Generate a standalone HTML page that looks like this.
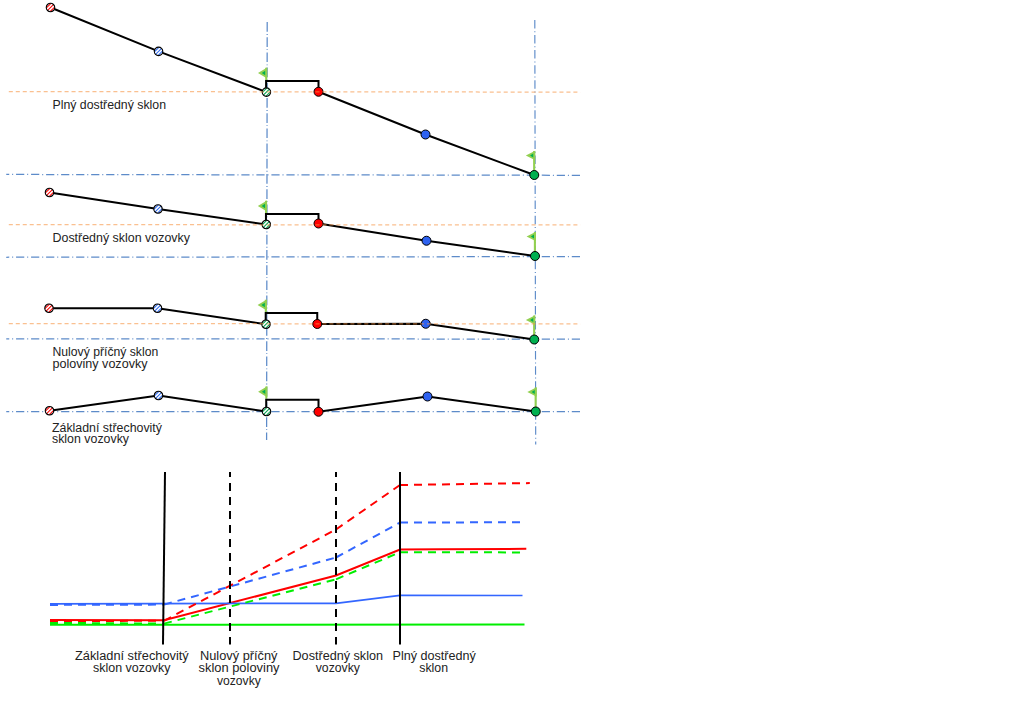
<!DOCTYPE html>
<html lang="cs"><head><meta charset="utf-8"><title>Klopení vozovky</title>
<style>html,body{margin:0;padding:0;background:#fff}body{width:1024px;height:720px;overflow:hidden}svg{display:block}text{font-family:"Liberation Sans", sans-serif;font-size:12.5px;fill:#222}</style></head><body>
<svg width="1024" height="720" viewBox="0 0 1024 720">
<defs>
<clipPath id="cc"><circle r="4.25"/></clipPath>
<g id="hr"><circle r="4.25" fill="#fff"/><g clip-path="url(#cc)" stroke="#ff0000" stroke-width="1.05" fill="none"><path d="M-13.3,6L-1.3,-6"/><path d="M-9.65,6L2.35,-6"/><path d="M-6.0,6L6.0,-6"/><path d="M-2.35,6L9.65,-6"/><path d="M1.3,6L13.3,-6"/></g><circle r="4.25" fill="none" stroke="#000" stroke-width="1.1"/></g>
<g id="hb"><circle r="4.25" fill="#fff"/><g clip-path="url(#cc)" stroke="#2e6bf0" stroke-width="1.05" fill="none"><path d="M-13.3,6L-1.3,-6"/><path d="M-9.65,6L2.35,-6"/><path d="M-6.0,6L6.0,-6"/><path d="M-2.35,6L9.65,-6"/><path d="M1.3,6L13.3,-6"/></g><circle r="4.25" fill="none" stroke="#000" stroke-width="1.1"/></g>
<g id="hg"><circle r="4.25" fill="#fff"/><g clip-path="url(#cc)" stroke="#00a650" stroke-width="1.05" fill="none"><path d="M-13.3,6L-1.3,-6"/><path d="M-9.65,6L2.35,-6"/><path d="M-6.0,6L6.0,-6"/><path d="M-2.35,6L9.65,-6"/><path d="M1.3,6L13.3,-6"/></g><circle r="4.25" fill="none" stroke="#000" stroke-width="1.1"/></g>
<g id="flag"><path d="M0,0V-12.25" stroke="#92d050" stroke-width="2" fill="none"/><path d="M1,-12.4L-8.2,-7L1,-1.6Z" fill="#92d050"/><path d="M-1,-9.3L-4.4,-7L-1,-4.8Z" fill="#00b050"/></g>
<g id="flag2"><path d="M0,0V-24" stroke="#92d050" stroke-width="2.1" fill="none"/><path d="M1.05,-24.2L-8.3,-19.5L1.05,-14.7Z" fill="#92d050"/><path d="M-0.9,-21.4L-4.1,-19.5L-0.9,-17.6Z" fill="#00b050"/></g>
</defs>
<rect width="1024" height="720" fill="#fff"/>
<line x1="580" y1="175.3" x2="6.25" y2="174.45" stroke="#5d8bc9" stroke-width="1.25" stroke-dasharray="8.2 2.9 1 2.92"/>
<line x1="580" y1="256.6" x2="6.25" y2="257.25" stroke="#5d8bc9" stroke-width="1.25" stroke-dasharray="8.2 2.9 1 2.92"/>
<line x1="580" y1="339.1" x2="6.25" y2="338.75" stroke="#5d8bc9" stroke-width="1.25" stroke-dasharray="8.2 2.9 1 2.92"/>
<line x1="580" y1="411.5" x2="6.25" y2="411.5" stroke="#5d8bc9" stroke-width="1.25" stroke-dasharray="8.2 2.9 1 2.92"/>
<line x1="267.2" y1="22" x2="266.6" y2="440" stroke="#5d8bc9" stroke-width="1.25" stroke-dasharray="9.7 2.3 0.9 2.3"/>
<line x1="534.8" y1="20" x2="535.7" y2="444.5" stroke="#5d8bc9" stroke-width="1.15" stroke-dasharray="8.5 2.8 1 2.75"/>
<use href="#flag" x="266.2" y="80"/>
<use href="#flag2" x="534.15" y="175"/>
<polyline points="50.5,7.5 158.55,51.4 266.4,92.1" fill="none" stroke="#000" stroke-width="2" stroke-linejoin="round"/>
<polyline points="266.09999999999997,92.1 266.09999999999997,81 318.5,81 318.5,91.75" fill="none" stroke="#000" stroke-width="2" stroke-linejoin="miter"/>
<polyline points="318.5,91.75 425.5,134.5 534.25,175" fill="none" stroke="#000" stroke-width="2" stroke-linejoin="round"/>
<use href="#hr" x="50.5" y="7.5"/>
<use href="#hb" x="158.55" y="51.4"/>
<use href="#hg" x="266.4" y="92.1"/>
<circle cx="318.5" cy="91.75" r="4.5" fill="#ff0000" stroke="#000" stroke-width="1"/>
<circle cx="425.5" cy="134.5" r="4.5" fill="#2e62f0" stroke="#000" stroke-width="1"/>
<circle cx="534.25" cy="175" r="4.5" fill="#00b050" stroke="#000" stroke-width="1"/>
<use href="#flag" x="266.05" y="213"/>
<use href="#flag2" x="534.9" y="256"/>
<polyline points="49.5,192.5 158,209 266.25,224.5" fill="none" stroke="#000" stroke-width="2" stroke-linejoin="round"/>
<polyline points="265.95,224.5 265.95,214 318.5,214 318.5,223.5" fill="none" stroke="#000" stroke-width="2" stroke-linejoin="miter"/>
<polyline points="318.5,223.5 426.5,240.75 535,256" fill="none" stroke="#000" stroke-width="2" stroke-linejoin="round"/>
<use href="#hr" x="49.5" y="192.5"/>
<use href="#hb" x="158" y="209"/>
<use href="#hg" x="266.25" y="224.5"/>
<circle cx="318.5" cy="223.5" r="4.5" fill="#ff0000" stroke="#000" stroke-width="1"/>
<circle cx="426.5" cy="240.75" r="4.5" fill="#2e62f0" stroke="#000" stroke-width="1"/>
<circle cx="535" cy="256" r="4.5" fill="#00b050" stroke="#000" stroke-width="1"/>
<use href="#flag" x="265.8" y="312"/>
<use href="#flag2" x="534.15" y="339.5"/>
<polyline points="49,308.25 157.5,308.25 266,324.25" fill="none" stroke="#000" stroke-width="2" stroke-linejoin="round"/>
<polyline points="265.7,324.25 265.7,313 317.25,313 317.25,324" fill="none" stroke="#000" stroke-width="2" stroke-linejoin="miter"/>
<polyline points="317.25,324 425.75,323.75 534.25,339.5" fill="none" stroke="#000" stroke-width="2" stroke-linejoin="round"/>
<use href="#hr" x="49" y="308.25"/>
<use href="#hb" x="157.5" y="308.25"/>
<use href="#hg" x="266" y="324.25"/>
<circle cx="317.25" cy="324" r="4.5" fill="#ff0000" stroke="#000" stroke-width="1"/>
<circle cx="425.75" cy="323.75" r="4.5" fill="#2e62f0" stroke="#000" stroke-width="1"/>
<circle cx="534.25" cy="339.5" r="4.5" fill="#00b050" stroke="#000" stroke-width="1"/>
<use href="#flag" x="266.3" y="398.75"/>
<use href="#flag2" x="535.65" y="411.5"/>
<polyline points="49.5,410.75 158.5,395.5 266.5,411.5" fill="none" stroke="#000" stroke-width="2" stroke-linejoin="round"/>
<polyline points="266.2,411.5 266.2,399.75 318.5,399.75 318.5,411.75" fill="none" stroke="#000" stroke-width="2" stroke-linejoin="miter"/>
<polyline points="318.5,411.75 427.5,396.5 535.75,411.5" fill="none" stroke="#000" stroke-width="2" stroke-linejoin="round"/>
<use href="#hr" x="49.5" y="410.75"/>
<use href="#hb" x="158.5" y="395.5"/>
<use href="#hg" x="266.5" y="411.5"/>
<circle cx="318.5" cy="411.75" r="4.5" fill="#ff0000" stroke="#000" stroke-width="1"/>
<circle cx="427.5" cy="396.5" r="4.5" fill="#2e62f0" stroke="#000" stroke-width="1"/>
<circle cx="535.75" cy="411.5" r="4.5" fill="#00b050" stroke="#000" stroke-width="1"/>
<line x1="8.8" y1="91.55" x2="580.4" y2="92.1" stroke="#f79646" stroke-opacity="0.6" stroke-width="1.25" stroke-dasharray="4.05 2.92"/>
<line x1="8.8" y1="224.67" x2="580.4" y2="224.9" stroke="#f79646" stroke-opacity="0.6" stroke-width="1.25" stroke-dasharray="4.05 2.92"/>
<line x1="8.8" y1="323.55" x2="580.4" y2="324.0" stroke="#f79646" stroke-opacity="0.6" stroke-width="1.25" stroke-dasharray="4.05 2.92"/>
<text x="52.5" y="108.75" textLength="113.5" lengthAdjust="spacingAndGlyphs">Plný dostředný sklon</text>
<text x="52.5" y="242" textLength="137.5" lengthAdjust="spacingAndGlyphs">Dostředný sklon vozovky</text>
<text x="52.5" y="355.75" textLength="105.75" lengthAdjust="spacingAndGlyphs">Nulový příčný sklon</text>
<text x="52.5" y="368" textLength="95" lengthAdjust="spacingAndGlyphs">poloviny vozovky</text>
<text x="52" y="431.75" textLength="110" lengthAdjust="spacingAndGlyphs">Základní střechovitý</text>
<text x="52" y="443.25" textLength="77" lengthAdjust="spacingAndGlyphs">sklon vozovky</text>
<g fill="none" stroke-width="2">
<polyline points="50,620 164,620.3 336,575.5 400,549.5 440,549.2 526.3,548.8" stroke="#ff0000"/>
<polyline points="50,624.8 524.5,624.4" stroke="#00ee00"/>
<polyline points="50,603.9 336,603.3 400,595.3 522.5,595.5" stroke="#3366ff" stroke-width="1.7"/>
<line x1="50" y1="604.9" x2="164" y2="604.6" stroke="#3366ff" stroke-dasharray="8 6"/>
<line x1="164" y1="604.6" x2="336" y2="557.5" stroke="#3366ff" stroke-dasharray="8 6"/>
<line x1="336" y1="557.5" x2="400" y2="522.6" stroke="#3366ff" stroke-dasharray="8 6"/>
<line x1="400" y1="522.6" x2="524.3" y2="522.2" stroke="#3366ff" stroke-dasharray="8 6"/>
<line x1="50" y1="621" x2="164" y2="620.8" stroke="#ff0000" stroke-dasharray="8 6"/>
<line x1="164" y1="620.8" x2="336" y2="529.5" stroke="#ff0000" stroke-dasharray="8 6"/>
<line x1="336" y1="529.5" x2="400" y2="485" stroke="#ff0000" stroke-dasharray="8 6"/>
<line x1="400" y1="485" x2="529.8" y2="483.1" stroke="#ff0000" stroke-dasharray="8 6"/>
<line x1="50" y1="622.9" x2="164" y2="623.6" stroke="#00ee00" stroke-dasharray="8 6"/>
<line x1="164" y1="623.6" x2="336" y2="579.3" stroke="#00ee00" stroke-dasharray="8 6"/>
<line x1="336" y1="579.3" x2="400" y2="552.2" stroke="#00ee00" stroke-dasharray="8 6"/>
<line x1="400" y1="552.2" x2="521" y2="552.4" stroke="#00ee00" stroke-dasharray="8 6"/>
</g>
<line x1="165" y1="472" x2="163" y2="644.5" stroke="#000" stroke-width="2"/>
<line x1="400" y1="472" x2="400" y2="644.5" stroke="#000" stroke-width="2"/>
<line x1="230" y1="472" x2="230" y2="644.5" stroke="#000" stroke-width="2" stroke-dasharray="8 6" stroke-dashoffset="3"/>
<line x1="336" y1="472" x2="336" y2="644.5" stroke="#000" stroke-width="2" stroke-dasharray="8 6" stroke-dashoffset="3"/>
<text x="75" y="660" textLength="113.75" lengthAdjust="spacingAndGlyphs">Základní střechovitý</text>
<text x="93" y="672" textLength="77.5" lengthAdjust="spacingAndGlyphs">sklon vozovky</text>
<text x="200" y="660" textLength="77.5" lengthAdjust="spacingAndGlyphs">Nulový příčný</text>
<text x="198.5" y="672" textLength="81.0" lengthAdjust="spacingAndGlyphs">sklon poloviny</text>
<text x="217" y="684.5" textLength="43.75" lengthAdjust="spacingAndGlyphs">vozovky</text>
<text x="292.5" y="660" textLength="90.5" lengthAdjust="spacingAndGlyphs">Dostředný sklon</text>
<text x="315.75" y="672" textLength="44.25" lengthAdjust="spacingAndGlyphs">vozovky</text>
<text x="392.5" y="660" textLength="83.25" lengthAdjust="spacingAndGlyphs">Plný dostředný</text>
<text x="419.25" y="672" textLength="28.75" lengthAdjust="spacingAndGlyphs">sklon</text>
</svg></body></html>
